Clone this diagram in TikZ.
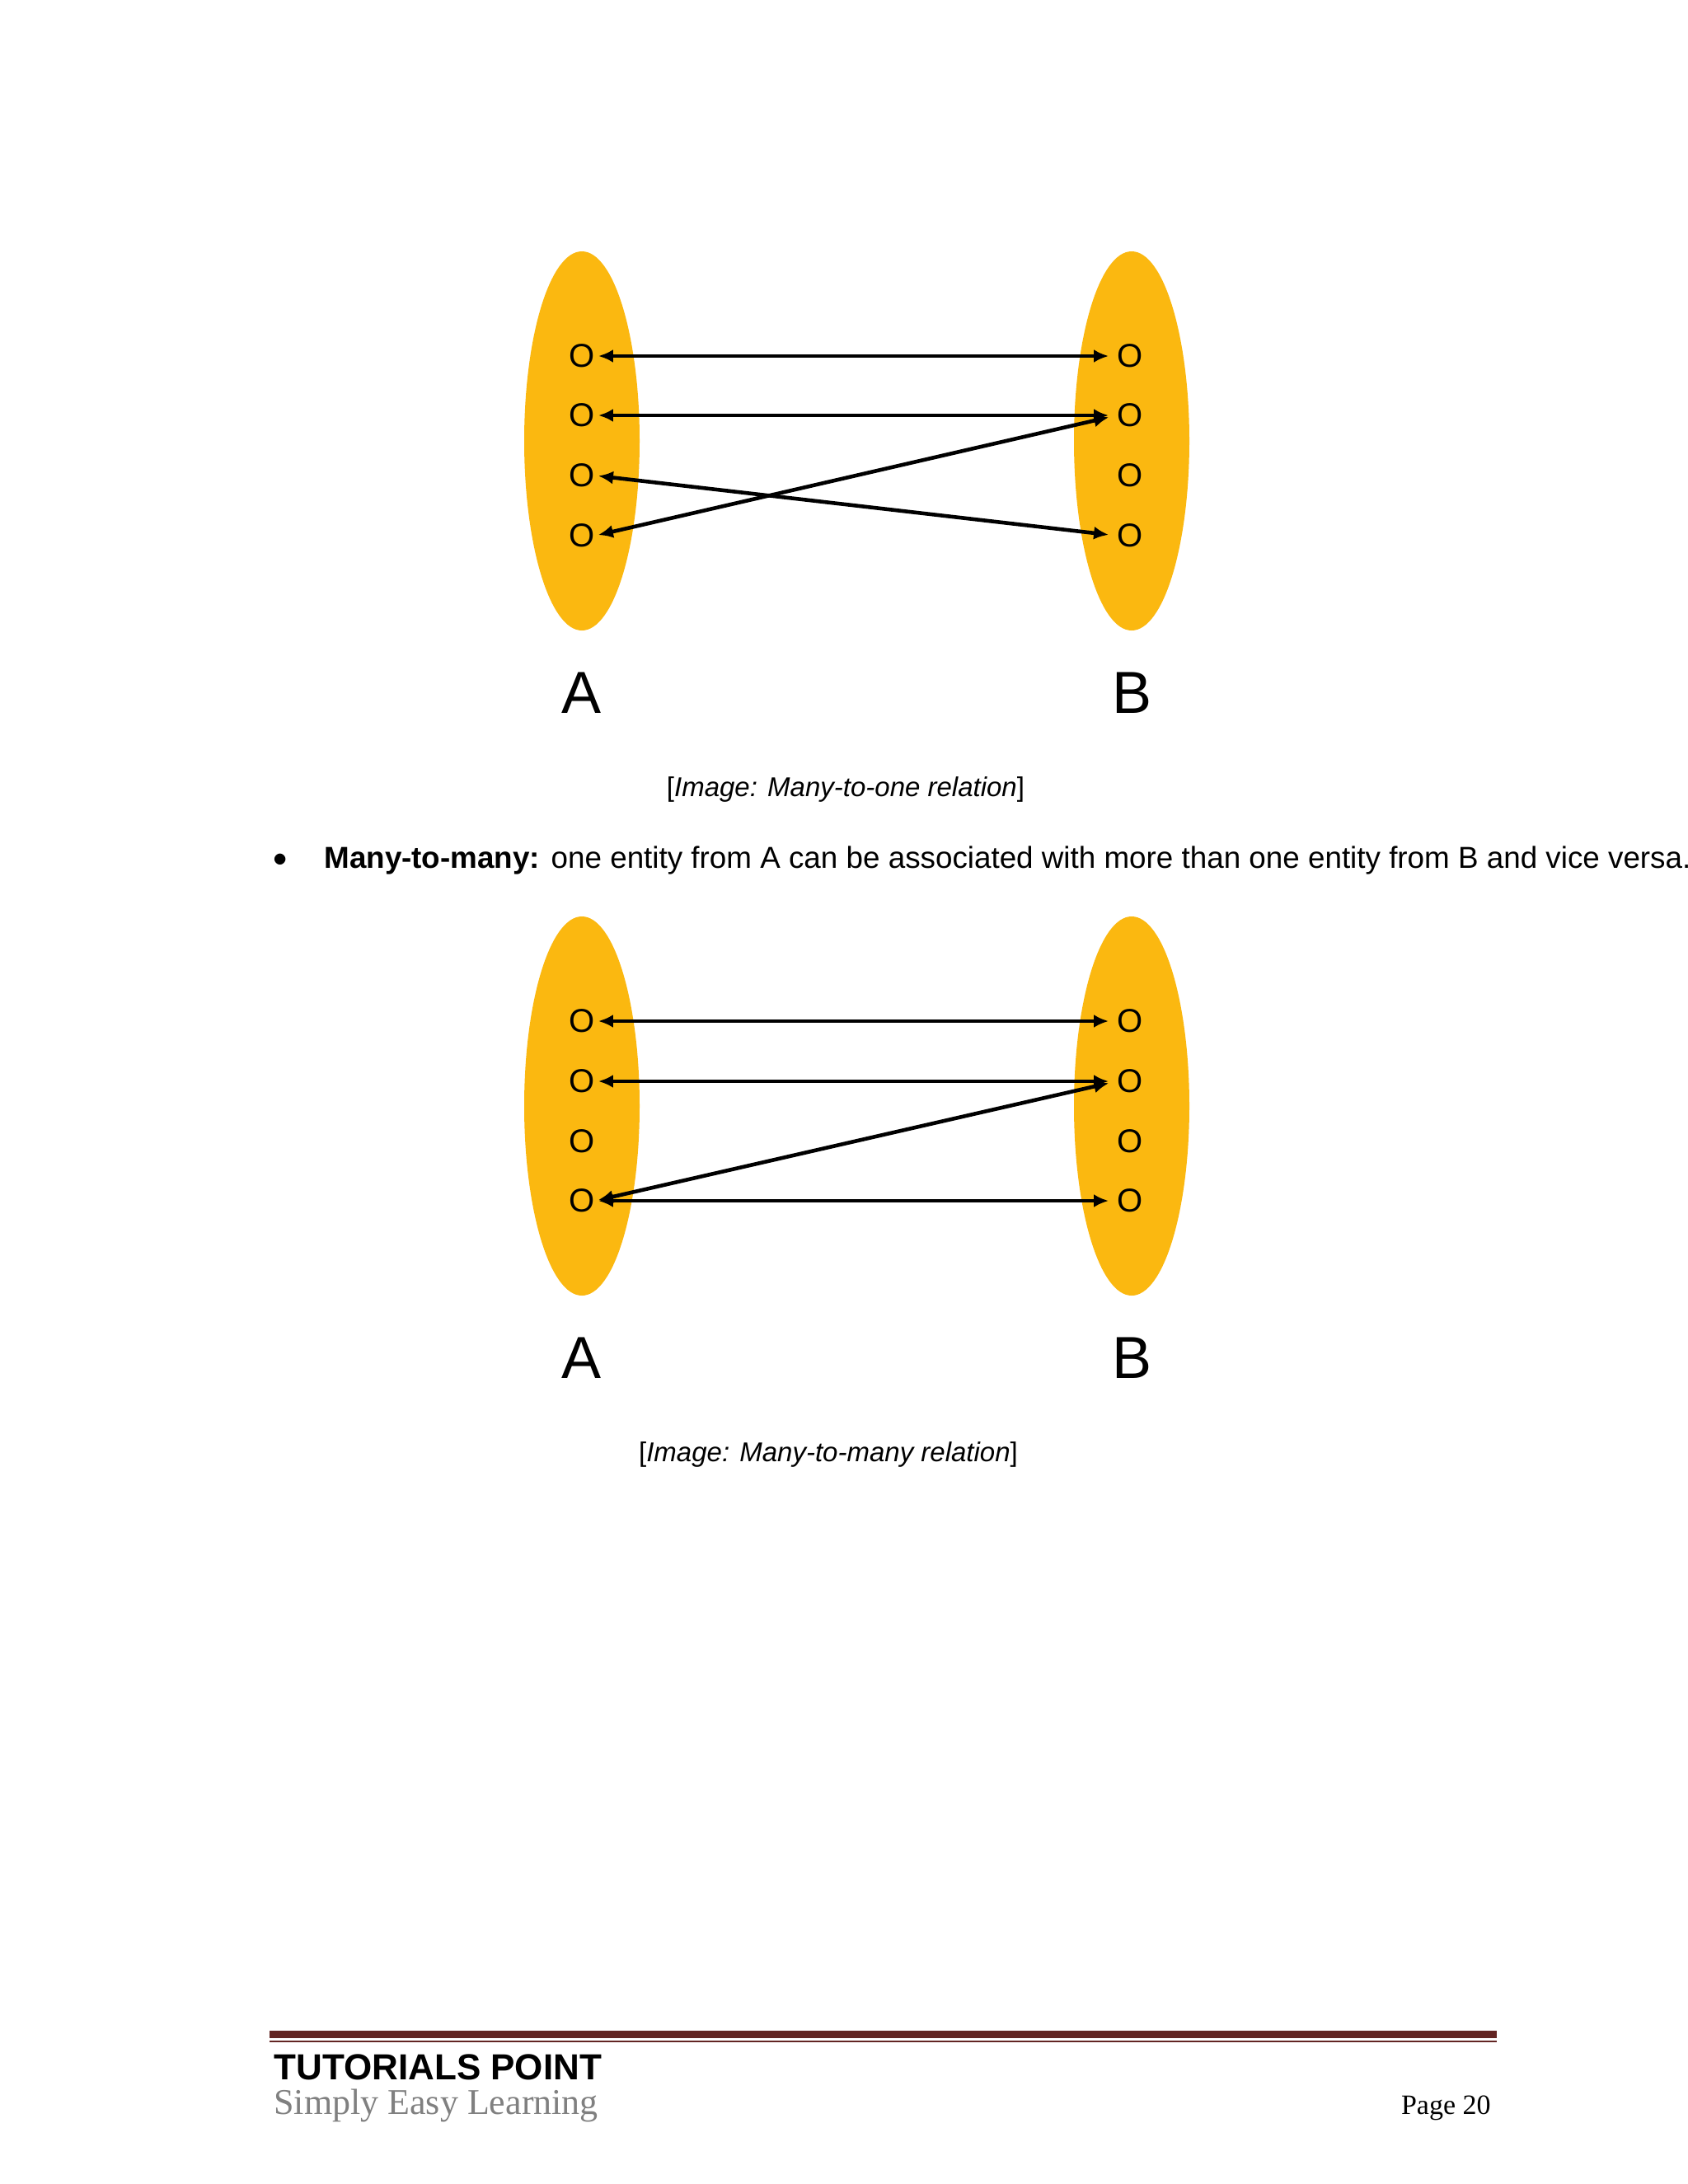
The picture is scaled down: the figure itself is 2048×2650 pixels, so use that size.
\documentclass[tikz,border=0pt]{standalone}
\usepackage{fontspec}
\setmainfont{Liberation Sans}
\newfontfamily\serifft{Liberation Serif}
\usetikzlibrary{arrows.meta,shapes.geometric}
\definecolor{setyellow}{HTML}{FBB810}
\definecolor{maroon}{HTML}{632523}
\tikzset{
  setell/.style={fill=setyellow, draw=none, ellipse, minimum width=70pt, minimum height=230pt},
  elem/.style={inner sep=0pt, font=\fontsize{20}{20}\selectfont},
  setlbl/.style={inner sep=0pt, font=\fontsize{36}{36}\selectfont},
  rel/.style={{Latex[length=9pt,width=8pt]}-{Latex[length=9pt,width=8pt]}, line width=2.3pt, shorten <=2pt, shorten >=5pt},
  captext/.style={inner sep=0pt, font=\fontsize{16.5}{20}\selectfont},
}
\begin{document}
\begin{tikzpicture}[x=0.5pt,y=-0.5pt]
\useasboundingbox (0,0) rectangle (2048,2650);
\fill[white] (0,0) rectangle (2048,2650);
% diagram 1
\node[setell] (A1) at (706,535) {};
\node[setell] (B1) at (1373,535) {};
\foreach \i/\y in {1/432,2/504,3/577,4/650}{
  \node[elem] (pa\i) at (706,\y) {O};
  \node[elem] (pb\i) at (1371,\y) {O};
}
\draw[rel] (pa1.east) -- (pb1.west);
\draw[rel] (pa2.east) -- (pb2.west);
\draw[rel] (pa4.east) -- (pb2.west);
\draw[rel] (pa3.east) -- (pb4.west);
\node[setlbl] (la1) at (706,841) {A};
\node[setlbl] (lb1) at (1373,841) {B};
\node[captext] (cap1) at (1026,958) {[\textit{Image: Many-to-one relation}]};
% bullet text
\node[inner sep=0pt, font=\fontsize{18.4}{22}\selectfont] (bul) at (340,1044) {$\bullet$};
\node[inner sep=0pt, anchor=west, font=\fontsize{18.4}{22}\selectfont] (txt) at (393,1044) {\textbf{Many-to-many:} one entity from A can be associated with more than one entity from B and vice versa.};
% diagram 2
\node[setell] (A2) at (706,1342) {};
\node[setell] (B2) at (1373,1342) {};
\foreach \i/\y in {1/1239,2/1312,3/1385,4/1457}{
  \node[elem] (qa\i) at (706,\y) {O};
  \node[elem] (qb\i) at (1371,\y) {O};
}
\draw[rel] (qa1.east) -- (qb1.west);
\draw[rel] (qa2.east) -- (qb2.west);
\draw[rel] (qa4.east) -- (qb2.west);
\draw[rel] (qa4.east) -- (qb4.west);
\node[setlbl] (la2) at (706,1648) {A};
\node[setlbl] (lb2) at (1373,1648) {B};
\node[captext] (cap2) at (1005,1765) {[\textit{Image: Many-to-many relation}]};
% footer
\fill[maroon] (327,2464) rectangle (1816,2473);
\fill[maroon] (327,2476) rectangle (1816,2478);
\node[inner sep=0pt, anchor=west, font=\fontsize{22}{24}\selectfont\bfseries] (tp) at (332,2508) {TUTORIALS POINT};
\node[inner sep=0pt, anchor=west, text=gray, font=\serifft\fontsize{22}{24}\selectfont] (sel) at (332,2555) {Simply Easy Learning};
\node[inner sep=0pt, anchor=east, font=\serifft\fontsize{17}{20}\selectfont] (pg) at (1809,2558) {Page 20};
\end{tikzpicture}
\end{document}
